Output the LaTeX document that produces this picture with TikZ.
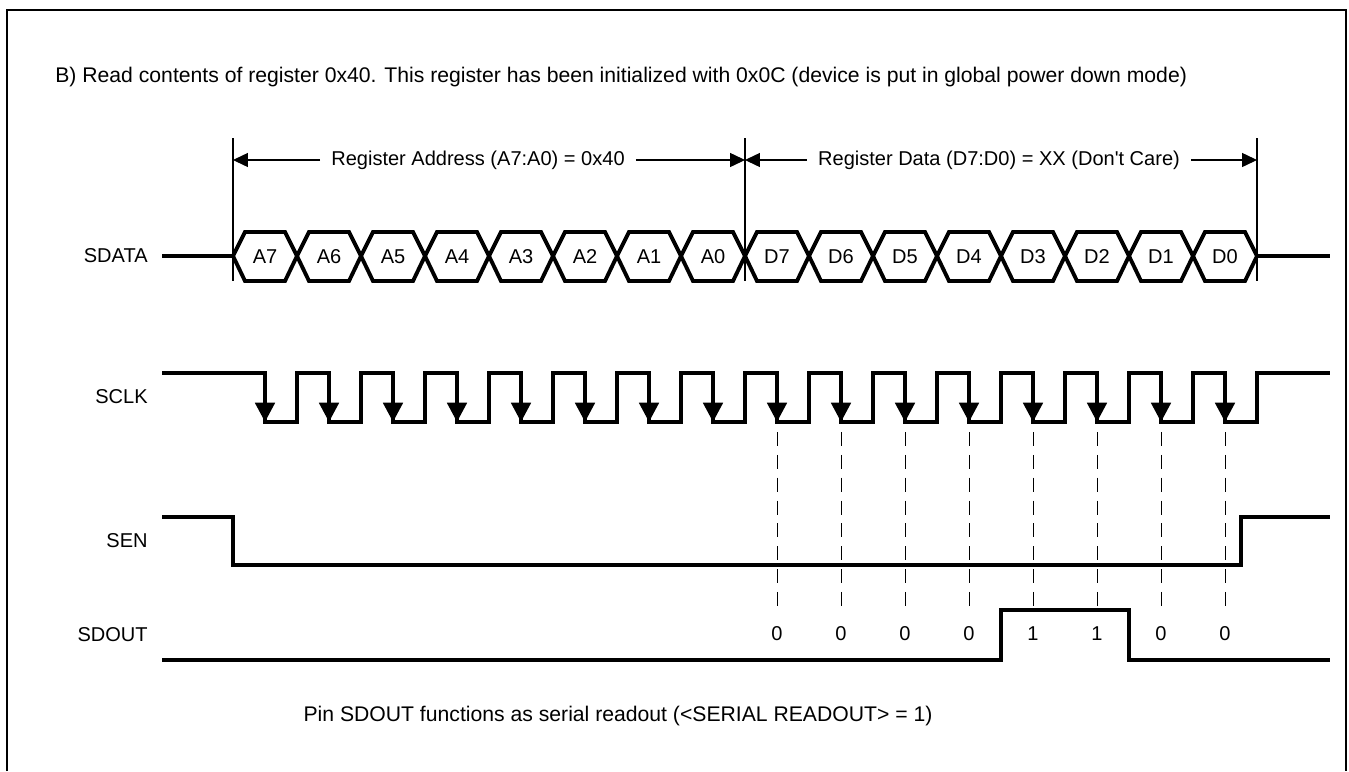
\documentclass[tikz,border=0pt]{standalone}
\usepackage{fontspec}
\setmainfont{Liberation Sans}
\usetikzlibrary{positioning,arrows.meta}

\begin{document}
\begin{tikzpicture}[x=0.02cm,y=-0.02cm,every node/.style={font=\fontsize{11.4}{13}\selectfont,inner sep=0pt},
  sig/.style={line width=2.2pt,line join=miter},
  marker/.style={line width=0.8pt},
  dim/.style={line width=0.6pt,-{Triangle[length=8.5pt,width=8pt]}},
  clkarrow/.style={line width=2.2pt,-{Triangle[length=11pt,width=11pt]}},
  bigtext/.style={font=\fontsize{12.05}{14}\selectfont}]
  \useasboundingbox (0,0) rectangle (1349,771);
  % frame, open at the bottom
  \draw[line width=1.3pt] (7,771) -- (7,10) -- (1346,10) -- (1346,771);
  \node[bigtext,anchor=west] (title) at (55,77) {B) Read contents of register 0x40. This register has been initialized with 0x0C (device is put in global power down mode)};

  % signal names
  \foreach \n/\y in {SDATA/256,SCLK/397,SEN/541,SDOUT/635}
     \node[anchor=east] (\n) at (148,\y) {\n};

  % field markers and their arrows
  \foreach \x/\n in {233/ml,745/mm,1257/mr} {
     \draw[marker] (\x,138) -- (\x,281);
     \coordinate (\n) at (\x,160);
  }
  \node[inner xsep=11pt*0.567] (addr) at (478,160) {Register Address (A7:A0) = 0x40};
  \node[inner xsep=11pt*0.567] (data) at (999,160) {Register Data (D7:D0) = XX (Don\textquotesingle t Care)};
  \draw[dim] (addr.west) -- (ml);
  \draw[dim] (addr.east) -- (mm);
  \draw[dim] (data.west) -- (mm);
  \draw[dim] (data.east) -- (mr);

  % SDATA
  \draw[sig] (162,256) -- (233,256);
  \draw[sig] (1257,256) -- (1330,256);
  \foreach \b [count=\k from 0] in {A7,A6,A5,A4,A3,A2,A1,A0,D7,D6,D5,D4,D3,D2,D1,D0} {
     \pgfmathsetmacro\x{233+64*\k}
     \draw[sig] (\x,256) -- (\x+12,232) -- (\x+52,232) -- (\x+64,256) -- (\x+52,281) -- (\x+12,281) -- cycle;
     \node (bit\k) at (\x+32,257) {\b};
  }

  % SCLK
  \draw[sig] (162,373) \foreach \k in {0,...,15} { -- ({265+64*\k},373) -- ({265+64*\k},422) -- ({297+64*\k},422) -- ({297+64*\k},373) } -- (1330,373);
  \foreach \k in {0,...,15}
     \draw[clkarrow] ({265+64*\k},390) -- ({265+64*\k},422);

  % SEN
  \draw[sig] (162,517) -- (233,517) -- (233,565) -- (1241,565) -- (1241,517) -- (1330,517);

  % SDOUT and the read-out bits
  \draw[sig] (162,660) -- (1001,660) -- (1001,610) -- (1129,610) -- (1129,660) -- (1330,660);
  \foreach \v [count=\k from 8] in {0,0,0,0,1,1,0,0} {
     \pgfmathsetmacro\x{265+64*\k}
     \draw[line width=0.5pt,dash pattern=on 8pt off 5pt] (\x,432) -- (\x,612);
     \node (out\k) at (\x,634) {\v};
  }

  \node[bigtext] (note) at (618,716) {Pin SDOUT functions as serial readout (<SERIAL READOUT> = 1)};
\end{tikzpicture}
\end{document}
